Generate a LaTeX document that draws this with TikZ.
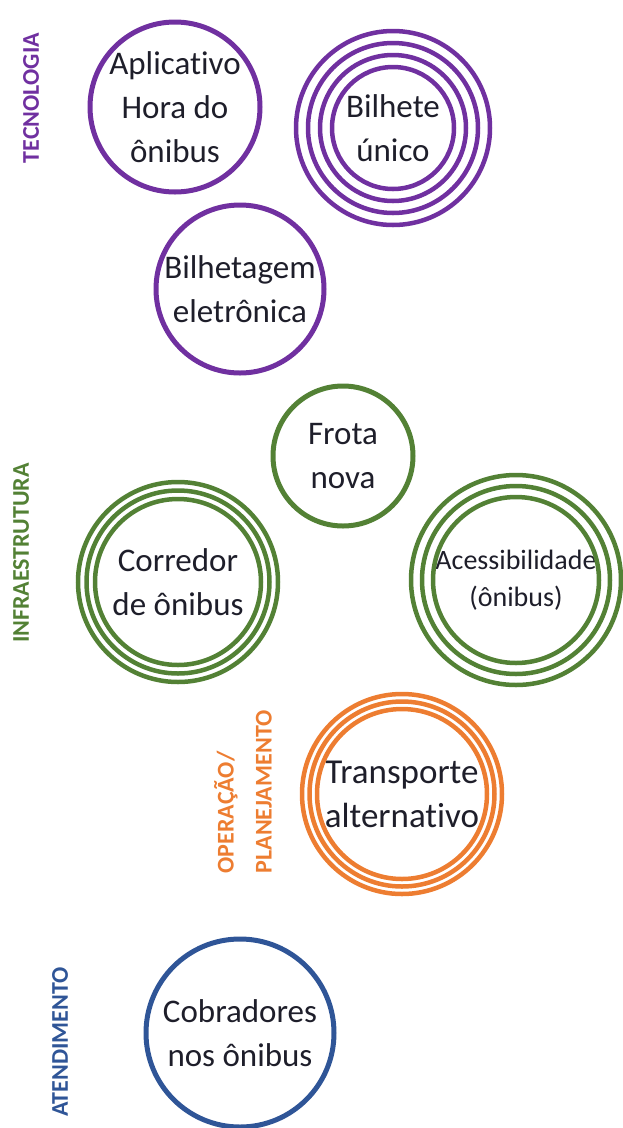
\documentclass[tikz,border=0pt]{standalone}
\usepackage{fontspec}
\setmainfont{Carlito}[RawFeature=-liga]
\usepackage{tikz}
\definecolor{tecno}{HTML}{7030A0}
\definecolor{infra}{HTML}{538135}
\definecolor{oper}{HTML}{ED7D31}
\definecolor{atend}{HTML}{2F5597}
\definecolor{txt}{HTML}{1E1E2A}

\begin{document}
\begin{tikzpicture}[x=1pt, y=-1pt,
    every node/.style={align=center, text=txt, font=\fontsize{33}{44}\selectfont},
    area/.style={rotate=90, align=left, font=\bfseries\fontsize{24}{38}\selectfont},
    ring/.style={line width=4.5pt}]
    \useasboundingbox (0,0) rectangle (623,1128);
    % tecnologia
    \node[area, text=tecno] (tec) at (31,98) {TECNOLOGIA};
    \node (app) at (175,107) {Aplicativo\\Hora do\\ônibus};
    \node (bu) at (393,128) {Bilhete\\único};
    \node (bil) at (240,289) {Bilhetagem\\eletrônica};
    \draw[tecno, line width=5pt] (app) circle (85pt) (bil) circle (84pt);
    \foreach \r in {97,85,73,61} \draw[tecno, ring] (bu) circle (\r pt);
    % infraestrutura
    \node[area, text=infra] (inf) at (21,553) {INFRAESTRUTURA};
    \node (fro) at (343,456) {Frota\\nova};
    \node (cor) at (178,582) {Corredor\\de ônibus};
    \node[font=\fontsize{28}{37}\selectfont] (ace) at (516,580) {Acessibilidade\\(ônibus)};
    \draw[infra, line width=5pt] (fro) circle (70pt);
    \foreach \r in {100,91.5,83} \draw[infra, ring] (cor) circle (\r pt);
    \foreach \r in {105,94,83} \draw[infra, ring] (ace) circle (\r pt);
    % operacao / planejamento
    \node[area, text=oper] (ope) at (243,792) {OPERAÇÃO/\\PLANEJAMENTO};
    \node[font=\fontsize{35}{44}\selectfont] (tra) at (402,794) {Transporte\\alternativo};
    \foreach \r in {100,92.5,85} \draw[oper, ring] (tra) circle (\r pt);
    % atendimento
    \node[area, text=atend] (ate) at (60,1042) {ATENDIMENTO};
    \node (cob) at (240,1033) {Cobradores\\nos ônibus};
    \draw[atend, line width=5pt] (cob) circle (94pt);
\end{tikzpicture}
\end{document}
